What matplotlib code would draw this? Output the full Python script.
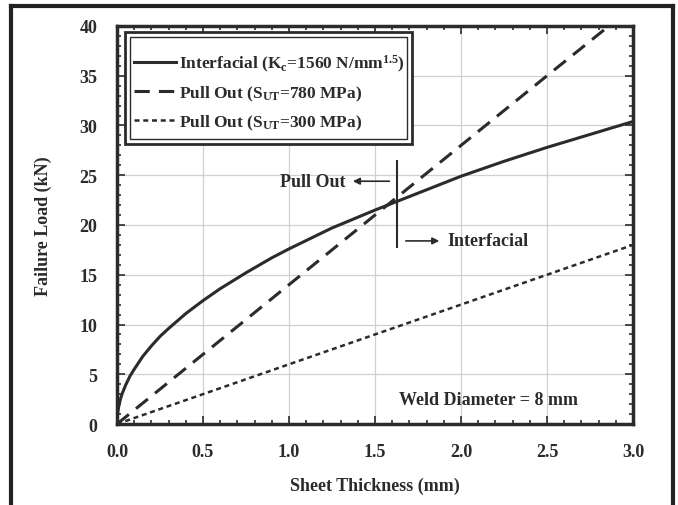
import matplotlib
matplotlib.use("Agg")
import matplotlib.pyplot as plt
from matplotlib.lines import Line2D
from matplotlib.patches import Rectangle
from matplotlib.ticker import MultipleLocator

# ---- data ----
thick_interfacial = [0.0, 0.002, 0.005, 0.01, 0.02, 0.03, 0.05, 0.075, 0.1, 0.15, 0.2, 0.25, 0.3, 0.4,
                     0.5, 0.6, 0.75, 0.9, 1.0, 1.25, 1.5, 1.75, 2.0, 2.25, 2.5, 2.75, 3.0]
load_interfacial = [0.0, 0.8, 1.25, 1.75, 2.5, 3.05, 3.9, 4.8, 5.5, 6.8, 7.85, 8.8, 9.6, 11.1,
                    12.4, 13.6, 15.2, 16.7, 17.6, 19.7, 21.5, 23.2, 24.9, 26.4, 27.8, 29.1, 30.4]
thick_pull780 = [0.0, 0.5, 1.0, 1.5, 2.0, 2.5, 2.86]
load_pull780 = [0.0, 7.0, 14.0, 21.0, 28.0, 35.0, 40.0]
thick_pull300 = [0.0, 0.5, 1.0, 1.5, 2.0, 2.5, 3.0]
load_pull300 = [0.0, 3.0, 6.0, 9.0, 12.0, 15.0, 18.0]

labels = [r"Interfacial (K$_{\mathrm{c}}$=1560 N/mm$^{\mathrm{1.5}}$)",
          r"Pull Out (S$_{\mathrm{UT}}$=780 MPa)",
          r"Pull Out (S$_{\mathrm{UT}}$=300 MPa)"]
xticks = [0.0, 0.5, 1.0, 1.5, 2.0, 2.5, 3.0]
yticks = [0, 5, 10, 15, 20, 25, 30, 35, 40]

INK = "#2b2b2b"
FS = 13
plt.rcParams["font.family"] = ["Liberation Serif", "DejaVu Serif"]
plt.rcParams["font.weight"] = "bold"
plt.rcParams["axes.labelweight"] = "bold"
plt.rcParams["mathtext.fontset"] = "custom"
plt.rcParams["mathtext.rm"] = "Liberation Serif:bold"
plt.rcParams["mathtext.it"] = "Liberation Serif:bold:italic"
plt.rcParams["mathtext.bf"] = "Liberation Serif:bold"

fig = plt.figure(figsize=(6.78, 5.06), dpi=100)
AX_L, AX_R, AX_T, AX_B = 117, 633, 27, 425
ax = fig.add_axes([AX_L/678, 1-AX_B/506, (AX_R-AX_L)/678, (AX_B-AX_T)/506])

def px2ax(px, py):
    return (px - AX_L) / (AX_R - AX_L), (AX_B - py) / (AX_B - AX_T)

ax.plot(thick_interfacial, load_interfacial, color=INK, lw=2.2, ls="-", label=labels[0])
ax.plot(thick_pull780, load_pull780, color=INK, lw=2.2, ls=(0, (5, 3)), label=labels[1])
ax.plot(thick_pull300, load_pull300, color=INK, lw=1.8, ls=(0, (2, 1.5)), label=labels[2])

ax.set_xlim(0, 3)
ax.set_ylim(0, 40)
ax.set_xticks(xticks)
ax.set_xticklabels([f"{v:.1f}" for v in xticks])
ax.set_yticks(yticks)
ax.xaxis.set_minor_locator(MultipleLocator(0.1))
ax.yaxis.set_minor_locator(MultipleLocator(1))
ax.tick_params(which="both", direction="in", top=True, right=True, colors=INK,
               labelsize=FS, width=1.2)
ax.tick_params(axis="x", which="major", length=6, pad=14)
ax.tick_params(axis="y", which="major", length=6, pad=14)
ax.tick_params(which="minor", length=3)
for s in ax.spines.values():
    s.set_linewidth(2.5)
    s.set_color(INK)
ax.grid(True, which="major", color="#d0d0d0", lw=0.9)
ax.set_axisbelow(True)

ax.set_xlabel("Sheet Thickness (mm)", fontsize=FS, color=INK, labelpad=12)
ax.set_ylabel("Failure Load (kN)", fontsize=FS, color=INK, labelpad=20)

# legend (entries) without its own frame; frame drawn as a double box
leg = ax.legend(loc="upper left", bbox_to_anchor=px2ax(134, 54), fontsize=12.5,
                frameon=False, handlelength=2.4, handletextpad=0.2, borderpad=0,
                labelspacing=0.55, borderaxespad=0)
for t in leg.get_texts():
    t.set_color(INK)
x0, y0 = px2ax(125, 145)
x1, y1 = px2ax(412, 33)
ax.add_patch(Rectangle((x0, y0), x1 - x0, y1 - y0, transform=ax.transAxes,
                       fill=True, facecolor="white", edgecolor=INK, lw=2.0, zorder=4))
x0, y0 = px2ax(130, 140)
x1, y1 = px2ax(407, 38)
ax.add_patch(Rectangle((x0, y0), x1 - x0, y1 - y0, transform=ax.transAxes,
                       fill=False, edgecolor=INK, lw=1.0, zorder=4.1))
leg.set_zorder(5)

# transition marker and arrows
ax.plot([1.628, 1.628], [17.8, 26.4], color=INK, lw=1.5)
ax.annotate("", xy=(1.355, 24.4), xytext=(1.60, 24.4),
            arrowprops=dict(arrowstyle="-|>", color=INK, lw=1.2, mutation_scale=10))
ax.text(1.33, 24.4, "Pull Out", ha="right", va="center", fontsize=FS, color=INK)
ax.annotate("", xy=(1.89, 18.4), xytext=(1.663, 18.4),
            arrowprops=dict(arrowstyle="-|>", color=INK, lw=1.2, mutation_scale=10))
ax.text(1.92, 18.4, "Interfacial", ha="left", va="center", fontsize=FS, color=INK)
ax.text(2.16, 2.5, "Weld Diameter = 8 mm", ha="center", va="center", fontsize=FS, color=INK)

# outer frame (open at the bottom)
fr = dict(color="#222222", lw=3, transform=fig.transFigure)
fig.add_artist(Line2D([11/678, 11/678], [0, 1-7/506], **fr))
fig.add_artist(Line2D([673/678, 673/678], [0, 1-7/506], **fr))
fig.add_artist(Line2D([11/678, 673/678], [1-7/506, 1-7/506], **fr))

fig.savefig("out.png", dpi=100)
